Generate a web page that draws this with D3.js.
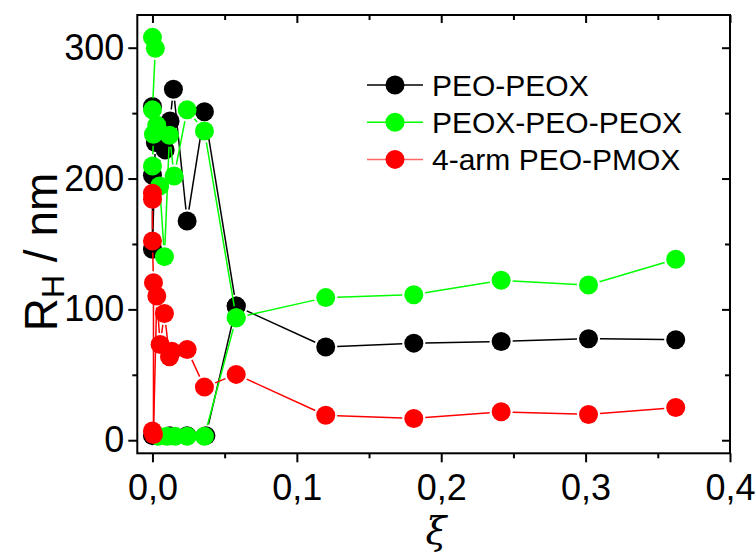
<!DOCTYPE html>
<html>
<head>
<meta charset="utf-8">
<script src="https://cdn.jsdelivr.net/npm/d3@7"></script>
<style>
  body { margin: 0; background: #fff; }
  text { font-family: "Liberation Sans", Arial, sans-serif; }
</style>
</head>
<body>
<script>
// PEO-PEOX (black): main branch and the small-particle branch
const peoPeoxX = [0, 0.002, 0, 0, 0.0088, 0.0122, 0.0145, 0.024, 0.036, 0.058, 0.12, 0.181, 0.2415, 0.302, 0.3624];
const peoPeoxY = [255, 227.5, 145.9, 202.5, 221.9, 244, 268.3, 167.6, 251, 102.5, 71.2, 74.2, 75.5, 77.6, 76.8];
const peoPeoxLowX = [0, 0.012, 0.024, 0.037, 0.058];
const peoPeoxLowY = [3.5, 3.5, 3.5, 3.5, 102.5];

// PEOX-PEO-PEOX (green)
const peoxX = [0, 0.002, 0, 0.003, 0.0007, 0, 0.005, 0.0083, 0.0118, 0.015, 0.024, 0.036, 0.058, 0.12, 0.181, 0.2415, 0.302, 0.3624];
const peoxY = [307.9, 299.5, 252.5, 240.8, 233.9, 209.6, 194.3, 140.3, 233.1, 202, 252.5, 236.4, 93.6, 109, 111.2, 122.2, 118.6, 138.3];
const peoxLowX = [0.004, 0.01, 0.0157, 0.024, 0.036, 0.058];
const peoxLowY = [3, 3, 3, 3, 3, 93.6];

// 4-arm PEO-PMOX (red)
const pmoxX = [0, 0, 0, 0.0007, 0.0007, 0.003, 0.0053, 0.0083, 0.0118, 0.0134, 0.024, 0.036, 0.058, 0.12, 0.181, 0.2415, 0.302, 0.3624];
const pmoxY = [188.8, 184.2, 152.3, 120.4, 4.4, 110.2, 73.2, 96.9, 63.8, 68, 69.4, 40.6, 50.3, 19.1, 16.6, 21.7, 19.7, 25];
const pmoxLowX = [0];
const pmoxLowY = [7];

const seriesNames = ["PEO-PEOX", "PEOX-PEO-PEOX", "4-arm PEO-PMOX"];
const seriesColors = ["#000000", "#00ff00", "#ff0000"];

const xMajor = [0, 0.1, 0.2, 0.3, 0.4];
const xMinor = [0.05, 0.15, 0.25, 0.35];
const yMajor = [0, 100, 200, 300];
const yMinor = [50, 150, 250];

const width = 755, height = 553;
const plotLeft = 137.3, plotRight = 730, plotTop = 15, plotBottom = 453.3;
const r = 9.5;

let svg = d3.select("body").append("svg")
  .attr("width", width)
  .attr("height", height);

let x = d3.scaleLinear().domain([-0.0105, 0.4]).range([plotLeft, plotRight]);
let y = d3.scaleLinear().domain([-10, 325]).range([plotBottom, plotTop]);

let fmt = function(d) { return d3.format(".1f")(d).replace(".", ","); };

// axes: outward on bottom/left with labels, inward mirrors on top/right
function styleAxis(g) {
  g.select(".domain").remove();
  g.selectAll(".tick line").attr("stroke", "#000").attr("stroke-width", 2);
  g.selectAll(".tick text").attr("fill", "#000").style("font-size", "36px")
    .style("font-family", "'Liberation Sans', Arial, sans-serif");
}

svg.append("g").attr("transform", "translate(0," + plotBottom + ")")
  .call(d3.axisBottom(x).tickValues(xMajor).tickFormat(fmt).tickSize(9).tickPadding(12))
  .call(styleAxis);
svg.append("g").attr("transform", "translate(0," + plotBottom + ")")
  .call(d3.axisBottom(x).tickValues(xMinor).tickFormat("").tickSize(5))
  .call(styleAxis);
svg.append("g").attr("transform", "translate(" + plotLeft + ",0)")
  .call(d3.axisLeft(y).tickValues(yMajor).tickFormat(d3.format("d")).tickSize(9).tickPadding(4))
  .call(styleAxis);
svg.append("g").attr("transform", "translate(" + plotLeft + ",0)")
  .call(d3.axisLeft(y).tickValues(yMinor).tickFormat("").tickSize(5))
  .call(styleAxis);

svg.append("g").attr("transform", "translate(0," + plotTop + ")")
  .call(d3.axisBottom(x).tickValues(xMajor).tickFormat("").tickSize(8))
  .call(styleAxis);
svg.append("g").attr("transform", "translate(0," + plotTop + ")")
  .call(d3.axisBottom(x).tickValues(xMinor).tickFormat("").tickSize(5))
  .call(styleAxis);
svg.append("g").attr("transform", "translate(" + plotRight + ",0)")
  .call(d3.axisLeft(y).tickValues(yMajor).tickFormat("").tickSize(8))
  .call(styleAxis);
svg.append("g").attr("transform", "translate(" + plotRight + ",0)")
  .call(d3.axisLeft(y).tickValues(yMinor).tickFormat("").tickSize(5))
  .call(styleAxis);

svg.append("rect")
  .attr("x", plotLeft).attr("y", plotTop)
  .attr("width", plotRight - plotLeft).attr("height", plotBottom - plotTop)
  .attr("fill", "none").attr("stroke", "#000").attr("stroke-width", 2);

// axis titles
let yTitle = svg.append("text")
  .attr("transform", "translate(57,252) rotate(-90)")
  .attr("text-anchor", "middle")
  .style("font-size", "46px");
yTitle.append("tspan").text("R");
yTitle.append("tspan").attr("dy", 7).style("font-size", "32px").text("H");
yTitle.append("tspan").attr("dy", -7).text(" / nm");

svg.append("text")
  .attr("x", 436).attr("y", 544)
  .attr("text-anchor", "middle")
  .style("font-family", "'DejaVu Serif', serif")
  .style("font-style", "italic")
  .style("font-size", "38px")
  .text("ξ");

// draw line with small gaps around markers, then markers
function drawSeries(xs, ys, color) {
  let pts = xs.map(function(d, i) { return [x(d), y(ys[i])]; });
  let g = svg.append("g");
  for (let i = 0; i < pts.length - 1; i++) {
    let p = pts[i], q = pts[i + 1];
    let dx = q[0] - p[0], dy = q[1] - p[1];
    let len = Math.sqrt(dx * dx + dy * dy);
    let gap = r + 2;
    if (len <= 2 * gap) continue;
    g.append("line")
      .attr("x1", p[0] + dx / len * gap).attr("y1", p[1] + dy / len * gap)
      .attr("x2", q[0] - dx / len * gap).attr("y2", q[1] - dy / len * gap)
      .attr("stroke", color).attr("stroke-width", 1.5);
  }
  g.selectAll("circle").data(pts).enter().append("circle")
    .attr("cx", function(d) { return d[0]; })
    .attr("cy", function(d) { return d[1]; })
    .attr("r", r)
    .attr("fill", color);
}

drawSeries(peoPeoxX, peoPeoxY, seriesColors[0]);
drawSeries(peoPeoxLowX, peoPeoxLowY, seriesColors[0]);
drawSeries(peoxX, peoxY, seriesColors[1]);
drawSeries(peoxLowX, peoxLowY, seriesColors[1]);
drawSeries(pmoxX, pmoxY, seriesColors[2]);
drawSeries(pmoxLowX, pmoxLowY, seriesColors[2]);

// legend
let legend = svg.append("g");
seriesNames.forEach(function(name, i) {
  let ly = 85 + i * 37.2;
  legend.append("line")
    .attr("x1", 367).attr("x2", 423).attr("y1", ly).attr("y2", ly)
    .attr("stroke", seriesColors[i]).attr("stroke-width", 1.5)
    .attr("stroke-opacity", i === 2 ? 0.6 : 1);
  legend.append("circle")
    .attr("cx", 395).attr("cy", ly).attr("r", r)
    .attr("fill", seriesColors[i]);
  legend.append("text")
    .attr("x", 432).attr("y", ly).attr("dy", "0.36em")
    .style("font-size", "30px")
    .text(name);
});
</script>
</body>
</html>
